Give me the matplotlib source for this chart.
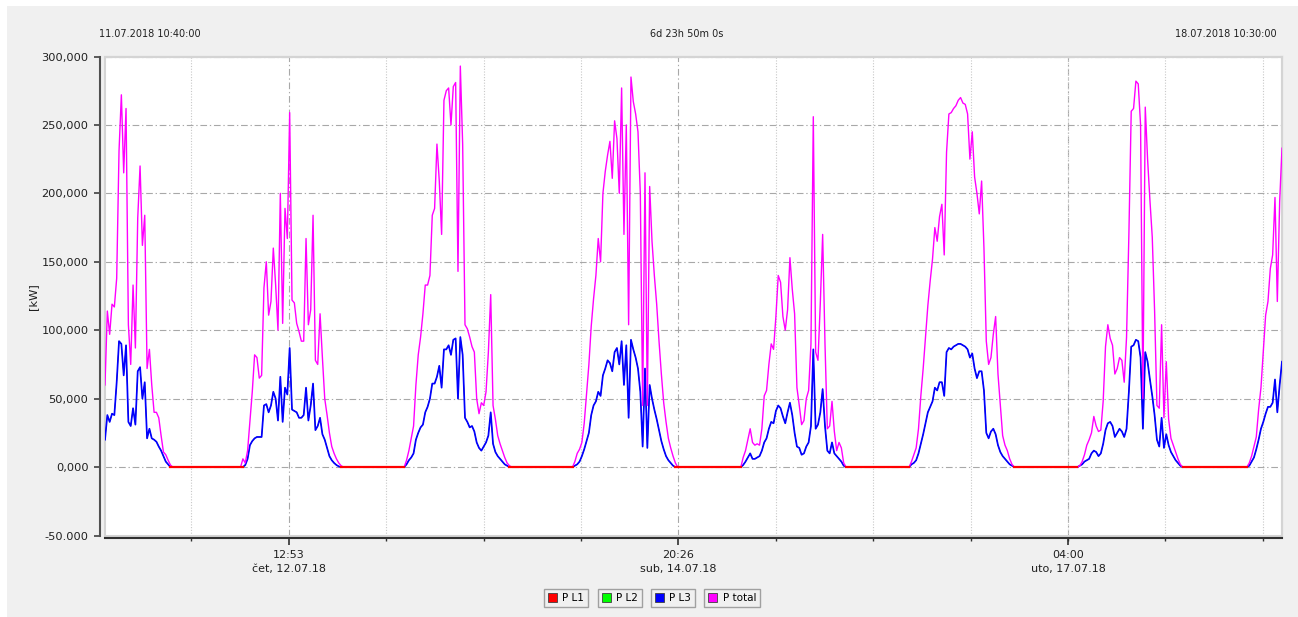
import numpy as np
import matplotlib
matplotlib.use("Agg")
import matplotlib.pyplot as plt
from matplotlib.patches import Rectangle, Patch

# Time axis: hours since 11.07.2018 00:00, samples every 20 min
step_h = 20 / 60
t_start = 10 + 40 / 60          # 11.07.2018 10:40:00
t_end = 168 + 10.5              # 18.07.2018 10:30:00

# One block per day: first sample time, P total [kW], per-phase power [kW]
d11_start = 10 + 40 / 60
d11_total = [60, 114, 97, 119, 117, 138, 231, 272, 215, 262, 104, 75, 133, 87, 182, 220, 162, 184,
             72, 86, 60, 40, 40, 36, 23, 11, 9, 5, 1.5, 0, 0]
d11_phase = [20, 38, 33, 39, 38, 62, 92, 90, 67, 89, 33, 30, 43, 31, 70, 73, 50, 62,
             21, 28, 21, 20, 18.5, 15, 12, 8, 4, 2, 0, 0, 0]

d12_start = 24 + 6
d12_total = [0, 6, 3, 12, 33, 55, 82, 80, 65, 67, 131, 150, 111, 121, 160, 133, 100, 200, 105, 189,
             167, 259, 122, 120, 105, 99, 92, 92, 167, 104, 115, 184, 78, 75, 112, 80, 50, 38, 25, 15,
             10, 6, 3, 1, 0]
d12_phase = [0, 0, 1.5, 6, 16, 19, 21, 22, 22, 22, 45, 46, 40, 45, 55, 50, 34, 66, 33, 58,
             53, 87, 42, 41, 40, 36, 36, 38, 58, 34, 45, 61, 27, 30, 36, 24, 20, 14, 8, 5,
             3, 1.5, 0.5, 0, 0]

d13_start = 48 + 5 + 20 / 60
d13_total = [0, 5, 12, 21, 30, 60, 82, 95, 112, 133, 133, 140, 184, 189, 236, 209, 170, 268, 275, 277,
             250, 278, 281, 143, 293, 236, 104, 101, 95, 88, 84, 50, 39, 47, 45, 55, 84, 126, 45, 35,
             23, 17, 12, 7, 3, 1, 0]
d13_phase = [0, 2, 5, 7, 10, 20, 25, 29, 31, 40, 44, 50, 61, 61, 66, 74, 58, 86, 86, 89,
             82, 93, 94, 50, 95, 82, 36, 33, 29, 30, 26, 18, 14, 12, 15, 18, 23, 40, 17, 11,
             8, 6, 4, 2, 1, 0, 0]

d14_start = 72 + 5 + 20 / 60
d14_total = [0, 4, 10, 13, 18, 32, 54, 75, 103, 123, 140, 167, 150, 200, 216, 228, 238, 211, 253, 240,
             200, 277, 170, 250, 104, 285, 267, 258, 245, 200, 45, 215, 45, 205, 165, 140, 119, 92, 68, 47,
             33, 21, 14, 8, 3, 0]
d14_phase = [0, 1, 2, 4, 8, 13, 19, 25, 38, 45, 48, 55, 52, 67, 72, 78, 76, 70, 84, 87,
             75, 92, 60, 89, 36, 93, 86, 80, 72, 55, 15, 72, 14, 60, 50, 42, 35, 27, 19, 13,
             8, 5, 3, 1, 0, 0]

d15_start = 96 + 5 + 20 / 60
d15_total = [0, 7, 12, 20, 28, 18, 16, 17, 16, 28, 52, 56, 75, 90, 86, 110, 140, 135, 110, 100,
             115, 153, 130, 112, 58, 45, 31, 34, 50, 56, 90, 256, 84, 78, 120, 170, 90, 28, 30, 48,
             26, 12, 18, 14, 3, 0]
d15_phase = [0, 1.5, 4, 7, 10, 6, 6, 7, 8, 12, 18, 21, 28, 33, 32, 41, 45, 43, 37, 32,
             40, 47, 38, 25, 15, 14, 9, 10, 15, 18, 30, 86, 28, 31, 40, 57, 30, 12, 10, 18,
             10, 8, 6, 4, 1, 0]

d16_start = 120 + 5 + 20 / 60
d16_total = [0, 4, 9, 14, 28, 52, 72, 95, 118, 136, 152, 175, 165, 183, 192, 155, 230, 258, 259, 262,
             264, 268, 270, 266, 265, 258, 225, 245, 212, 200, 185, 209, 160, 92, 75, 80, 97, 110, 68, 45,
             23, 16, 12, 6, 2, 0]
d16_phase = [0, 2, 3, 5, 10, 17, 24, 32, 40, 44, 48, 58, 56, 62, 62, 52, 84, 87, 86, 88,
             89, 90, 90, 89, 88, 86, 80, 83, 72, 65, 70, 70, 56, 25, 21, 26, 28, 24, 16, 11,
             8, 6, 4, 2, 1, 0]

d17_start = 144 + 5 + 20 / 60
d17_total = [0, 1, 4, 9, 16, 20, 25, 37, 30, 26, 27, 48, 88, 104, 94, 89, 68, 72, 80, 78,
             62, 95, 170, 260, 262, 282, 280, 250, 50, 263, 225, 195, 168, 114, 45, 43, 104, 36, 77, 35,
             21, 16, 11, 6, 2, 0]
d17_phase = [0, 1, 2, 4, 5, 6, 10, 12, 11, 8, 10, 17, 27, 32, 33, 30, 22, 25, 28, 26,
             22, 28, 55, 88, 89, 93, 92, 80, 28, 84, 77, 64, 52, 38, 20, 15, 36, 14, 24, 16,
             11, 8, 5, 3, 1, 0]

d18_start = 168 + 5.5
d18_total = [0, 3, 8, 15, 22, 42, 58, 84, 111, 121, 145, 155, 197, 121, 194, 233]
d18_phase = [0, 1, 4, 7, 13, 20, 28, 33, 39, 44, 44, 47, 64, 40, 60, 77]

# Axis tick positions / labels
major_ticks = [24 + 12 + 53 / 60, 72 + 20 + 26 / 60, 144 + 4]
major_labels = ["12:53\nčet, 12.07.18", "20:26\nsub, 14.07.18", "04:00\nuto, 17.07.18"]
minor_per_major = 4
y_ticks = [-50, 0, 50, 100, 150, 200, 250, 300]
y_labels = ["-50.000", "0,000", "50,000", "100,000", "150,000", "200,000", "250,000", "300,000"]

series_names = ["P L1", "P L2", "P L3", "P total"]
series_colors = ["#ff0000", "#00ff00", "#0000ff", "#ff00ff"]

# Stitch the day blocks together
days = [(d11_start, d11_total, d11_phase), (d12_start, d12_total, d12_phase),
        (d13_start, d13_total, d13_phase), (d14_start, d14_total, d14_phase),
        (d15_start, d15_total, d15_phase), (d16_start, d16_total, d16_phase),
        (d17_start, d17_total, d17_phase), (d18_start, d18_total, d18_phase)]
t_all, total_all, phase_all = [], [], []
for start, tot, ph in days:
    assert len(tot) == len(ph)
    t_all.append(start + step_h * np.arange(len(tot)))
    total_all.append(tot)
    phase_all.append(ph)
t_all = np.concatenate(t_all)
total_all = np.concatenate(total_all).astype(float)
phase_all = np.concatenate(phase_all).astype(float)

# Figure
W, H = 1298, 617
fig = plt.figure(figsize=(W / 100, H / 100), dpi=100, facecolor="white")
fig.patches.append(Rectangle((7 / W, 0), 1, 1 - 6 / H, transform=fig.transFigure,
                             facecolor="#f0f0f0", edgecolor="none", zorder=-10))

ax = fig.add_axes([105 / W, (H - 535.5) / H, 1177 / W, 479 / H])
ax.set_facecolor("white")
ax.set_xlim(t_start, t_end)
ax.set_ylim(-50, 300)

# grid
ax.set_yticks(y_ticks, labels=y_labels)
ax.set_xticks(major_ticks, labels=major_labels)
minor_step = (major_ticks[1] - major_ticks[0]) / minor_per_major
minor_ticks = [m for m in np.arange(major_ticks[0] - 2 * minor_per_major * minor_step, t_end, minor_step)
               if t_start < m < t_end and min(abs(m - M) for M in major_ticks) > 1e-6]
ax.set_xticks(minor_ticks, minor=True)
dashdot = (0, (6, 2.5, 1.2, 2.5))
ax.grid(which="major", axis="both", color="#a8a8a8", linestyle=dashdot, linewidth=0.8)
ax.grid(which="minor", axis="x", color="#c8c8c8", linestyle=(0, (1, 1.5)), linewidth=0.8)
ax.set_axisbelow(True)

# lines (phases overlap almost exactly, L3 drawn on top)
ax.plot(t_all, phase_all, color=series_colors[1], lw=0.4, zorder=2)
ax.plot(t_all, phase_all, color=series_colors[0], lw=0.4, zorder=3)
ax.plot(t_all, phase_all, color=series_colors[2], lw=1.25, zorder=4)
ax.plot(t_all, total_all, color=series_colors[3], lw=1.0, zorder=5)
# L1 idle line at night sits on top
night_l1 = np.where(phase_all == 0, phase_all, np.nan)
ax.plot(t_all, night_l1, color=series_colors[0], lw=1.6, zorder=6)

# spines / ticks
for side in ["top", "right"]:
    ax.spines[side].set_color("#d4d4d4")
    ax.spines[side].set_linewidth(1.5)
ax.add_patch(Rectangle((0, 0), 1, 1, transform=ax.transAxes, fill=False,
                       edgecolor="#d4d4d4", lw=1.5, clip_on=False, zorder=1))
ax.spines["left"].set_position(("outward", 3.6))
ax.spines["left"].set_color("#505050")
ax.spines["left"].set_linewidth(1.5)
ax.spines["bottom"].set_position(("outward", 1.8))
ax.spines["bottom"].set_color("#303030")
ax.spines["bottom"].set_linewidth(1.5)
ax.tick_params(axis="y", direction="out", length=4.3, width=1.2, color="#404040",
               labelsize=8.2, pad=4, labelcolor="#202020")
ax.tick_params(axis="x", which="major", direction="out", length=5, width=1.2, color="#303030",
               labelsize=8, pad=4, labelcolor="#202020")
ax.tick_params(axis="x", which="minor", direction="out", length=2.5, width=1.0, color="#303030")
for lab in ax.get_xticklabels():
    lab.set_linespacing(1.45)

# texts
fig.text(33 / W, 1 - 297 / H, "[kW]", rotation=90, ha="center", va="center", fontsize=8.2, color="#202020")
fig.text(99 / W, 1 - 34 / H, "11.07.2018 10:40:00", ha="left", va="center", fontsize=7, color="#202020")
fig.text(687 / W, 1 - 34 / H, "6d 23h 50m 0s", ha="center", va="center", fontsize=7, color="#202020")
fig.text(1277 / W, 1 - 34 / H, "18.07.2018 10:30:00", ha="right", va="center", fontsize=7, color="#202020")

# separate boxed legend entries
for name, color, xc in zip(series_names, series_colors, [566, 620, 673, 732]):
    fig.legend(handles=[Patch(facecolor=color, edgecolor="#404040", lw=0.6)], labels=[name],
               loc="center", bbox_to_anchor=(xc / W, 18.7 / H), frameon=True, fancybox=False,
               edgecolor="#a0a0a0", facecolor="#f0f0f0", framealpha=1, fontsize=7.5,
               handlelength=0.9, handleheight=0.9, handletextpad=0.5, borderpad=0.4,
               borderaxespad=0)

fig.savefig("out.png", dpi=100, facecolor=fig.get_facecolor())
